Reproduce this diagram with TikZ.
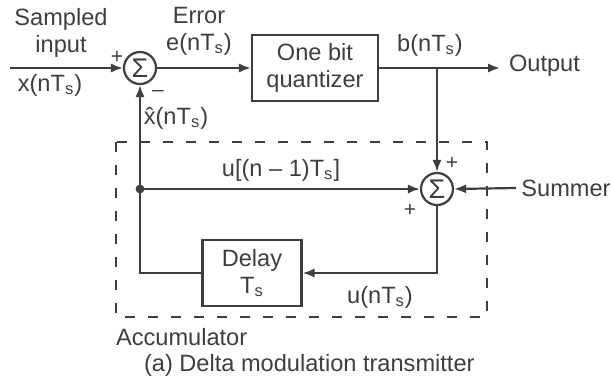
\documentclass[tikz,border=0pt]{standalone}
\usepackage{fontspec}
\setmainfont{Liberation Sans}
\usetikzlibrary{arrows.meta}

\definecolor{ink}{RGB}{62,62,62}
\newcommand{\Ts}{T\textsubscript{s}}

\begin{document}
\begin{tikzpicture}[x=0.5pt,y=-0.5pt,line cap=butt,line join=miter,
  every node/.style={text=ink,font=\fontsize{11.8}{13.5}\selectfont},
  sig/.style={draw=ink,line width=1.1pt,-{Latex[length=6pt,width=4.6pt]}},
  sumnode/.style={circle,draw=ink,line width=1.1pt,minimum size=16pt,inner sep=0pt,
    font=\fontsize{13.5}{14}\selectfont},
  blockbox/.style={rectangle,draw=ink,line width=1.1pt,align=center,inner sep=0pt},
  sign/.style={font=\fontsize{10.5}{12}\selectfont,inner sep=0pt}]

\useasboundingbox (0,0) rectangle (612,377);

% blocks
\node[sumnode] (sum1) at (140,68) {Σ};
\node[blockbox,minimum width=63pt,minimum height=33pt] (quant) at (315,68) {One bit\\quantizer};
\node[sumnode] (sum2) at (437,189) {Σ};
\node[blockbox,minimum width=49.5pt,minimum height=33pt] (delay) at (252,273) {Delay\\\Ts};

% key points
\coordinate (in) at (10,68);
\coordinate (out) at (500,68);
\coordinate (br) at (437,68);
\coordinate (jn) at (140,189);

% forward path
\draw[sig] (in) -- (sum1);
\draw[sig] (sum1) -- (quant);
\draw[sig] (quant) -- (out);
\draw[sig] (br) -- (sum2);

% accumulator loop
\draw[sig] (jn) -- (sum2);
\draw[sig] (sum2) |- (delay);
\draw[sig] (delay.west) -| (sum1.south);
\fill[ink] (jn) circle (2.2pt);

% accumulator border
\draw[ink,line width=1.2pt,dash pattern=on 5pt off 6.5pt] (116,142) rectangle (487,317);

% labels
\node[align=center] (lin) at (61,33) {Sampled\\input};
\node (lx) at (50,85) {x(n\Ts)};
\node[sign] (p1) at (117,57) {+};
\node[align=center] (lerr) at (199,31) {Error\\e(n\Ts)};
\node[sign] (m1) at (158,93) {–};
\node (lxh) at (176,118) {\^{x}(n\Ts)};
\node (lb) at (430,45) {b(n\Ts)};
\node[anchor=west] (lout) at (502,66) {Output};
\node (lu1) at (281,170) {u[(n – 1)\Ts]};
\node[sign] (p2) at (452,163) {+};
\node[sign] (p3) at (410,210) {+};
\node[anchor=west,inner sep=0pt] (summer) at (521,188) {Summer};
\draw[sig] ([xshift=-2.5pt]summer.west) -- (sum2.east);
\node (lu) at (380,297) {u(n\Ts)};
\node[anchor=west] (lacc) at (109,337) {Accumulator};
\node[anchor=west] (cap) at (137,365) {(a) Delta modulation transmitter};

\end{tikzpicture}
\end{document}
